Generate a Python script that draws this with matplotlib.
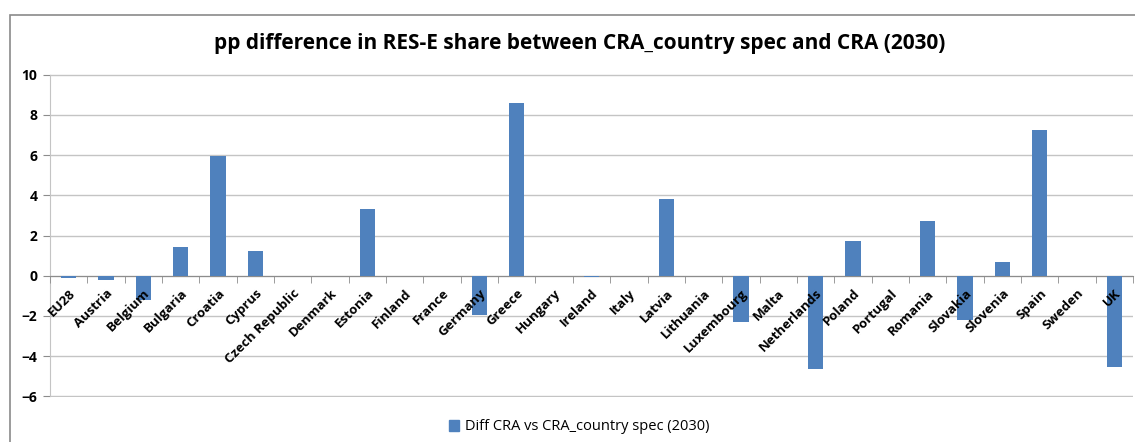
import numpy as np
import matplotlib
matplotlib.use('Agg')
from matplotlib import pyplot as plt
from matplotlib.patches import Rectangle, Patch
from matplotlib.ticker import FixedLocator

countries = ['EU28', 'Austria', 'Belgium', 'Bulgaria', 'Croatia', 'Cyprus',
             'Czech Republic', 'Denmark', 'Estonia', 'Finland', 'France',
             'Germany', 'Greece', 'Hungary', 'Ireland', 'Italy', 'Latvia',
             'Lithuania', 'Luxembourg', 'Malta', 'Netherlands', 'Poland',
             'Portugal', 'Romania', 'Slovakia', 'Slovenia', 'Spain', 'Sweden', 'UK']
diff = [-0.13, -0.2, -1.19, 1.45, 5.96, 1.23,
        -0.03, 0.0, 3.3, -0.03, 0.0,
        -1.95, 8.57, -0.03, -0.08, -0.03, 3.8,
        0.0, -2.3, -0.03, -4.66, 1.73,
        -0.03, 2.72, -2.22, 0.66, 7.23, 0.0, -4.53]
series_name = 'Diff CRA vs CRA_country spec (2030)'
title = 'pp difference in RES-E share between CRA_country spec and CRA (2030)'
yticks = [-6, -4, -2, 0, 2, 4, 6, 8, 10]

plt.rcParams['font.family'] = ['Open Sans', 'DejaVu Sans']
blue = '#4F81BD'
grid = '#C4C4C4'
axis_col = '#8C8C8C'

fig = plt.figure(figsize=(11.35, 4.42), dpi=100)
# outer chart border (Excel style, cut off at right/bottom)
fig.patches.append(Rectangle((10 / 1135, -0.1), 1.2, 0.1 + (1 - 15 / 442),
                             transform=fig.transFigure, fill=False,
                             edgecolor='#8A8A8A', linewidth=1.2))

ax = fig.add_axes([50 / 1135, 1 - 397 / 442, 1083 / 1135, 323 / 442])
x = np.arange(len(countries))
ax.bar(x, diff, width=0.41, color=blue, zorder=3)

ax.set_xlim(-0.5, len(countries) - 0.5)
ax.set_ylim(-6.03, 10.03)
ax.set_yticks(yticks)
ax.yaxis.grid(True, color=grid, linewidth=1.0, zorder=0)
ax.tick_params(axis='y', length=5, color=axis_col, labelsize=10, pad=4)
for lab in ax.get_yticklabels():
    lab.set_fontweight('bold')

ax.spines['bottom'].set_position(('data', 0))
ax.spines['bottom'].set_color(axis_col)
ax.spines['left'].set_color(grid)
ax.spines['left'].set_bounds(-6, 10)
ax.spines['top'].set_visible(False)
ax.spines['right'].set_visible(False)

ax.set_xticks(x)
ax.set_xticklabels(countries, rotation=45, ha='right', va='top',
                   rotation_mode='anchor', fontsize=9.5, fontweight='bold')
ax.tick_params(axis='x', which='major', length=0, pad=8)
ax.xaxis.set_minor_locator(FixedLocator(np.arange(-0.5, len(countries), 1)))
ax.tick_params(axis='x', which='minor', length=5, color=axis_col)
# labels sit on top of the bars like in the original
ax.xaxis.set_zorder(5)

fig.text(0.511, 1 - 44 / 442, title, ha='center', va='center',
         fontsize=15, fontweight='bold')

fig.legend(handles=[Patch(color=blue, label=series_name)], loc='center',
           bbox_to_anchor=(0.51, 1 - 427 / 442), frameon=False,
           fontsize=10.5, handlelength=0.7, handleheight=0.7, handletextpad=0.4)

fig.savefig('out.png', dpi=100)
